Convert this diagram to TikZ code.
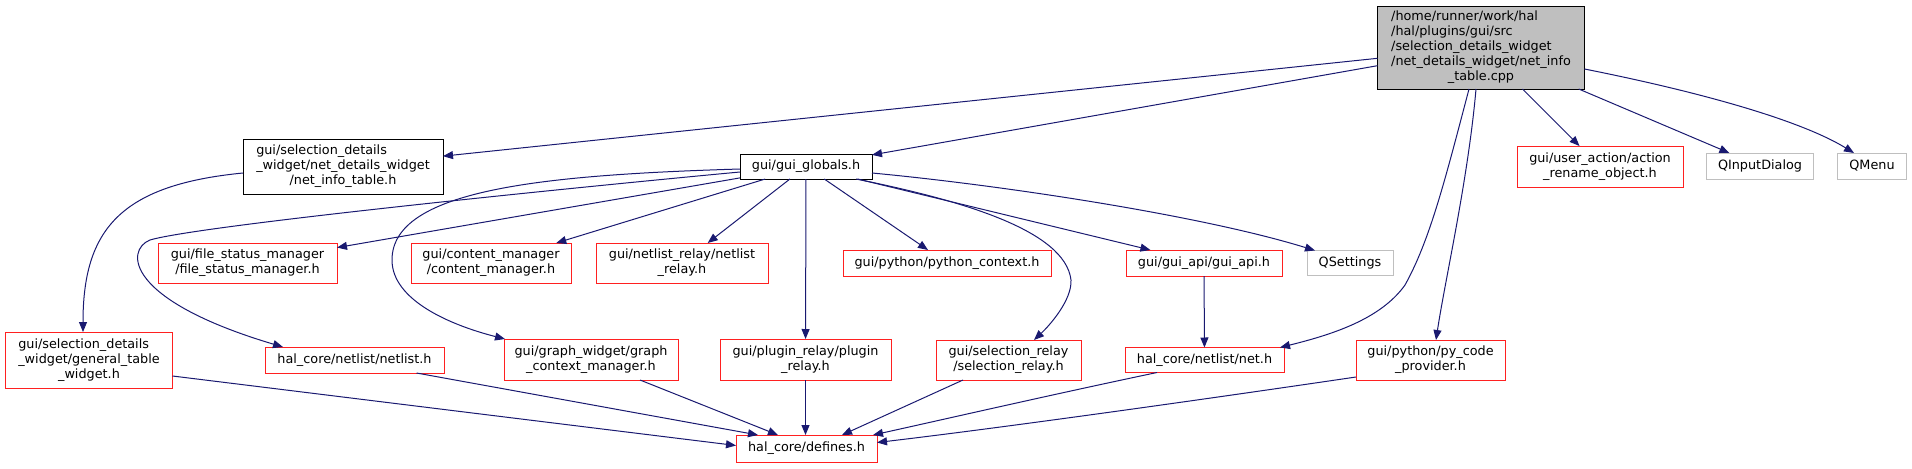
\documentclass[tikz,border=0pt]{standalone}
\usepackage{fontspec}
\setmainfont{DejaVu Sans}
\usetikzlibrary{arrows.meta,calc}
\definecolor{edgeblue}{HTML}{191970}
\definecolor{boxgray}{HTML}{BFBFBF}
\definecolor{boxred}{HTML}{FF2020}
\newcommand{\dlab}[1]{\begin{tabular}{@{}l@{}}#1\end{tabular}}
\newcommand{\lc}[1]{\multicolumn{1}{@{}c@{}}{#1}}
\tikzset{
  sz/.style 2 args={minimum width=#1*0.75pt, minimum height=#2*0.75pt},
  dnode/.style={draw, rectangle, inner sep=0pt, outer sep=0pt, line width=0.65pt,
    font=\fontsize{9.6}{11.25}\selectfont, align=center, fill=white},
  mainbox/.style={dnode, draw=black, fill=boxgray},
  blackbox/.style={dnode, draw=black},
  redbox/.style={dnode, draw=boxred},
  graybox/.style={dnode, draw=boxgray},
  e/.style={draw=edgeblue, line width=0.75pt,
    -{Triangle[length=7.5pt,width=6pt,fill=edgeblue]}},
}
\begin{document}
\begin{tikzpicture}[x=0.75pt,y=-0.75pt]
\useasboundingbox (0,0) rectangle (1912,468);
% rank 0
\node[mainbox, sz={207}{83}] (main) at (1481,47.5)
  {\dlab{/home/runner/work/hal\\/hal/plugins/gui/src\\/selection\_details\_widget\\/net\_details\_widget/net\_info\\\lc{\_table.cpp}}};
% rank 1
\node[blackbox, sz={200}{55}] (nit) at (343,166.5)
  {\dlab{gui/selection\_details\\\_widget/net\_details\_widget\\\lc{/net\_info\_table.h}}};
\node[blackbox, sz={132}{25}] (gg) at (806,166.5) {gui/gui\_globals.h};
\node[redbox, sz={166}{41}] (ar) at (1600,166.5)
  {\dlab{gui/user\_action/action\\\lc{\_rename\_object.h}}};
\node[graybox, sz={107}{26}] (qid) at (1760,166) {QInputDialog};
\node[graybox, sz={69}{26}] (qm) at (1872,166) {QMenu};
% rank 2
\node[redbox, sz={179}{40}] (fsm) at (247.5,263)
  {\dlab{gui/file\_status\_manager\\\lc{/file\_status\_manager.h}}};
\node[redbox, sz={160}{40}] (cm) at (491,263)
  {\dlab{gui/content\_manager\\\lc{/content\_manager.h}}};
\node[redbox, sz={172}{40}] (nr) at (682,263)
  {\dlab{gui/netlist\_relay/netlist\\\lc{\_relay.h}}};
\node[redbox, sz={208}{26}] (pc) at (947,263) {gui/python/python\_context.h};
\node[redbox, sz={156}{26}] (ga) at (1204,263) {gui/gui\_api/gui\_api.h};
\node[graybox, sz={86}{25}] (qs) at (1350,263) {QSettings};
% rank 3
\node[redbox, sz={167}{56}] (gtw) at (89,360)
  {\dlab{gui/selection\_details\\\_widget/general\_table\\\lc{\_widget.h}}};
\node[redbox, sz={179}{26}] (nl) at (354.5,360) {hal\_core/netlist/netlist.h};
\node[redbox, sz={174}{41}] (gcm) at (591,359.5)
  {\dlab{gui/graph\_widget/graph\\\lc{\_context\_manager.h}}};
\node[redbox, sz={171}{41}] (pr) at (805.5,359.5)
  {\dlab{gui/plugin\_relay/plugin\\\lc{\_relay.h}}};
\node[redbox, sz={145}{40}] (sr) at (1008.5,360)
  {\dlab{gui/selection\_relay\\\lc{/selection\_relay.h}}};
\node[redbox, sz={159}{25}] (neth) at (1204.5,360) {hal\_core/netlist/net.h};
\node[redbox, sz={149}{40}] (pcp) at (1430.5,360)
  {\dlab{gui/python/py\_code\\\lc{\_provider.h}}};
% rank 4
\node[redbox, sz={141}{27}] (def) at (806.5,448.5) {hal\_core/defines.h};

% edges from main
\draw[e] (main) -- (nit);
\draw[e] (main) -- (gg);
\draw[e] (main) -- (ar);
\draw[e] (main) -- (qid);
\draw[e] ($(main.east)+(0,21.5)$) .. controls (1700,92) and (1800,120) .. ($(qm.north)+(-18,0)$);
\draw[e] ($(main.south)+(-12,0)$) .. controls (1445,180) and (1430,240) .. (1405,285)
  .. controls (1380,320) and (1330,335) .. ($(neth.north east)+(-4,0)$);
\draw[e] ($(main.south)+(-5,0)$) .. controls (1468,180) and (1445,280) .. ($(pcp.north)+(5.5,0)$);
% net_info_table
\draw[e] ($(nit.west)+(0,6.5)$) .. controls (120,185) and (83,230) .. ($(gtw.north)+(-6,0)$);
% gui_globals
\draw[e] (gg) -- (fsm);
\draw[e] (gg) -- (cm);
\draw[e] (gg) -- (nr);
\draw[e] (gg) -- (pr);
\draw[e] (gg) -- (pc);
\draw[e] (gg) -- (ga);
\draw[e] ($(gg.west)+(0,5.5)$) .. controls (600,185) and (200,225) .. (150,240)
  .. controls (125,250) and (125,300) .. ($(nl.north west)+(18,0)$);
\draw[e] ($(gg.west)+(0,2.5)$) .. controls (540,175) and (392,190) .. (392,260)
  .. controls (392,300) and (450,325) .. ($(gcm.north west)+(1,0)$);
\draw[e] ($(gg.south east)+(-16,0)$) .. controls (960,200) and (1065,230) .. (1071,280)
  .. controls (1072,300) and (1050,325) .. ($(sr.north)+(25.5,0)$);
\draw[e] ($(gg.east)+(0,6.5)$) .. controls (1000,185) and (1200,215) .. ($(qs.north west)+(8,0)$);
% gui_api
\draw[e] (ga) -- (neth);
% to defines
\draw[e] ($(gtw.east)+(0,16)$) -- ($(def.west)+(0,-3)$);
\draw[e] ($(nl.south)+(62,0)$) -- ($(def.north west)+(22,0)$);
\draw[e] ($(gcm.south)+(49,0)$) -- ($(def.north west)+(42,0)$);
\draw[e] (pr.south) -- (pr.south |- def.north);
\draw[e] ($(sr.south west)+(27,0)$) -- ($(def.north east)+(-35,0)$);
\draw[e] ($(neth.south west)+(32,0)$) .. controls (1050,395) and (950,418) .. ($(def.north east)+(-4,0)$);
\draw[e] ($(pcp.west)+(0,17)$) .. controls (1200,400) and (1000,428) .. ($(def.east)+(0,-6)$);
\end{tikzpicture}
\end{document}
